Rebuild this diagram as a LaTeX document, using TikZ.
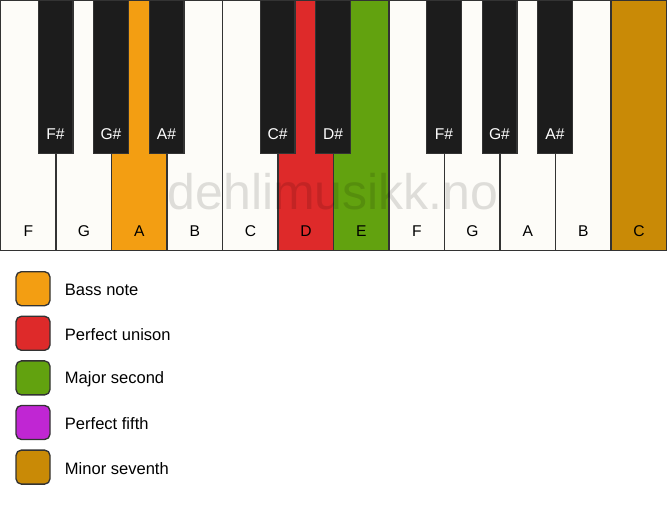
\documentclass[tikz,border=0pt]{standalone}
\usepackage{fontspec}
\setmainfont{Liberation Sans}
\usetikzlibrary{positioning}
\definecolor{keywhite}{HTML}{FDFCF8}
\definecolor{keyblack}{HTML}{1C1C1C}
\definecolor{keyedge}{HTML}{333333}
\definecolor{bassnote}{HTML}{F39E12}
\definecolor{unison}{HTML}{DE2A2A}
\definecolor{second}{HTML}{62A20F}
\definecolor{fifth}{HTML}{C026D3}
\definecolor{seventh}{HTML}{C98A06}

\begin{document}
\begin{tikzpicture}[x=0.75pt,y=-0.75pt,
	whitekey/.style={rectangle,draw=keyedge,line width=1pt,inner sep=0pt,anchor=north west,minimum width=41.6pt,minimum height=187.5pt},
	blackkey/.style={rectangle,draw=keyedge,fill=keyblack,line width=0.8pt,inner sep=0pt,anchor=north,minimum width=26.2pt,minimum height=114.7pt},
	whitename/.style={font=\fontsize{11.7pt}{13pt}\selectfont,text=black},
	blackname/.style={font=\fontsize{11.7pt}{13pt}\selectfont,text=white},
	swatch/.style={rectangle,rounded corners=4pt,draw=keyedge,line width=1pt,minimum size=25.5pt,inner sep=0pt},
	legendtext/.style={font=\fontsize{12.4pt}{14pt}\selectfont,inner sep=0pt,anchor=west}]

	\useasboundingbox (0,0) rectangle (667,506);

	% white keys
	\foreach \n/\name/\col [count=\i from 0] in {wF/F/keywhite,wG/G/keywhite,wA/A/bassnote,wB/B/keywhite,wC/C/keywhite,wD/D/unison,wE/E/second,wFF/F/keywhite,wGG/G/keywhite,wAA/A/keywhite,wBB/B/keywhite,wCC/C/seventh}{
		\node[whitekey,fill=\col] (\n) at (55.5*\i,0) {};
		\node[whitename] (\n name) at ([yshift=15pt]\n.south) {\name};
	}

	% watermark
	\node[font=\fontsize{37.5pt}{40pt}\selectfont,text=black,text opacity=0.12] (mark) at (333,192) {dehlimusikk.no};

	% black keys
	\foreach \n/\name/\k in {bF/F\#/1,bG/G\#/2,bA/A\#/3,bC/C\#/5,bD/D\#/6,bFF/F\#/8,bGG/G\#/9,bAA/A\#/10}{
		\node[blackkey] (\n) at (55.5*\k,0) {};
		\node[blackname] (\n name) at ([yshift=15pt]\n.south) {\name};
	}

	% legend
	\foreach \n/\txt/\col [count=\i from 0] in {lgBass/Bass note/bassnote,lgUnison/Perfect unison/unison,lgSecond/Major second/second,lgFifth/Perfect fifth/fifth,lgSeventh/Minor seventh/seventh}{
		\node[swatch,fill=\col] (\n) at (33,288.7+44.6*\i) {};
		\node[legendtext,right=10.5pt of \n,yshift=-1pt] (\n text) {\txt};
	}
\end{tikzpicture}
\end{document}
